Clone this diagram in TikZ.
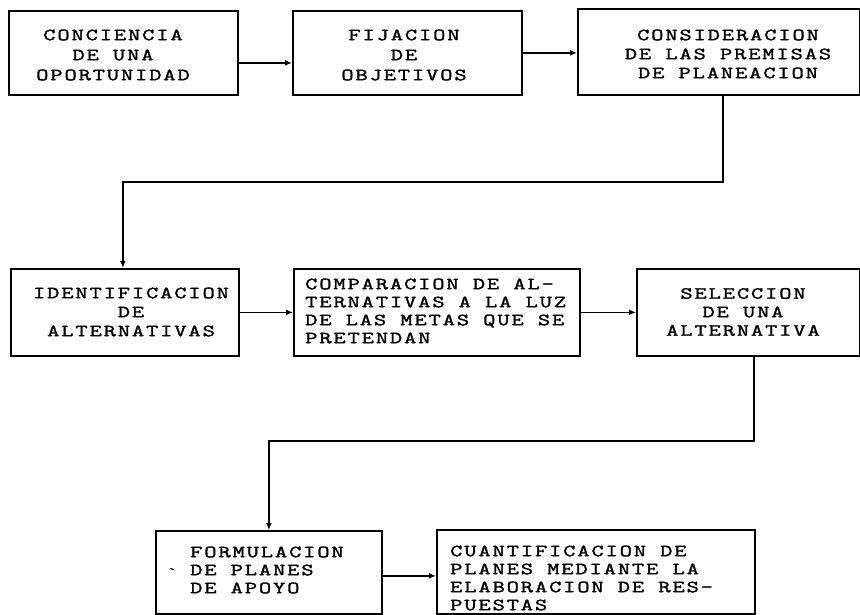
\documentclass[tikz,border=0pt]{standalone}
\usepackage{fontspec}
\newfontfamily\tw[FakeStretch=1.4,LetterSpace=11,FakeBold=1.8]{Latin Modern Mono}
\usetikzlibrary{arrows.meta}
\begin{document}
\begin{tikzpicture}[x=1pt,y=-1pt,
  box/.style={draw, line width=1.8pt, inner sep=0pt, anchor=north west},
  txt/.style={font=\tw\fontsize{17}{#1}\selectfont, align=center, inner sep=0pt},
  txtl/.style={font=\tw\fontsize{17}{#1}\selectfont, align=left, inner sep=0pt, anchor=west},
  conn/.style={line width=1.6pt, -{Latex[length=7pt,width=6pt]}}]
\useasboundingbox[fill=white] (0,0) rectangle (860,615);

% boxes
\node[box, minimum width=229pt, minimum height=84pt] (b1) at (8,10) {};
\node[box, minimum width=229pt, minimum height=84pt] (b2) at (292,10) {};
\node[box, minimum width=282pt, minimum height=86pt] (b3) at (577,8) {};
\node[box, minimum width=228pt, minimum height=87pt] (b4) at (10,268) {};
\node[box, minimum width=286pt, minimum height=87pt] (b5) at (293,268) {};
\node[box, minimum width=223pt, minimum height=87pt] (b6) at (636,268) {};
\node[box, minimum width=226pt, minimum height=83pt] (b7) at (155,530) {};
\node[box, minimum width=318pt, minimum height=84pt] (b8) at (436,529) {};

% texts
\node[txt=20] (t1) at (113,55) {CONCIENCIA\\DE UNA\\OPORTUNIDAD};
\node[txt=20] (t2) at (404,55) {FIJACION\\DE\\OBJETIVOS};
\node[txt=19] (t3) at (728,54) {CONSIDERACION\\DE LAS PREMISAS\\DE PLANEACION};
\node[txt=19] (t4) at (131,312) {IDENTIFICACION\\DE\\ALTERNATIVAS};
\node[txtl=18] (t5) at (305,311) {COMPARACION DE AL-\\TERNATIVAS A LA LUZ\\DE LAS METAS QUE SE\\PRETENDAN};
\node[txt=18.5] (t6) at (743,312) {SELECCION\\DE  UNA\\ALTERNATIVA};
\node[txtl=18] (t7) at (190,570) {FORMULACION\\DE PLANES\\DE APOYO};
\node[txtl=18] (t8) at (450,578) {CUANTIFICACION DE\\PLANES MEDIANTE LA\\ELABORACION DE RES-\\PUESTAS};
\node[font=\tw\fontsize{12}{12}\selectfont, inner sep=0pt] (mk) at (172,572) {`};

% connectors
\draw[conn] ([yshift=-10pt]b1.east) -- ([yshift=-10pt]b1.east -| b2.west);
\draw[conn] (b2.east) -- (b2.east -| b3.west);
\draw[conn] ([xshift=4pt]b3.south) -- ++(0,86) -| ([xshift=-2pt]b4.north);
\draw[conn] (b4.east) -- (b4.east -| b5.west);
\draw[conn] (b5.east) -- (b5.east -| b6.west);
\draw[conn] ([xshift=5.5pt]b6.south) -- ++(0,84) -| (b7.north);
\draw[conn] ([yshift=-3.5pt]b7.east) -- ([yshift=-3.5pt]b7.east -| b8.west);
\end{tikzpicture}
\end{document}
